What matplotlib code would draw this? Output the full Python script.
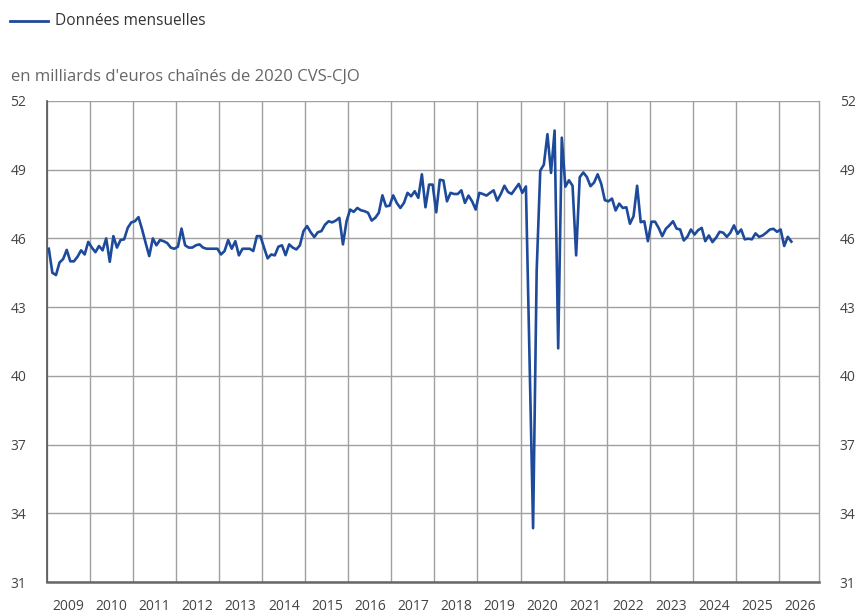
import numpy as np
import matplotlib
matplotlib.use("Agg")
import matplotlib.pyplot as plt

plt.rcParams['font.family'] = ['Open Sans', 'DejaVu Sans']

# monthly values, Jan 2009 onwards (billions of chained 2020 euros)
values = [
    45.55, 44.5, 44.4, 44.95, 45.1, 45.5, 45.0, 45.0, 45.2, 45.48, 45.3, 45.85,
    45.6, 45.4, 45.67, 45.48, 46.0, 44.98, 46.1, 45.6, 45.93, 45.96, 46.46, 46.7,
    46.75, 46.93, 46.4, 45.8, 45.23, 46.0, 45.7, 45.93, 45.88, 45.8, 45.6, 45.55,
    45.64, 46.43, 45.7, 45.6, 45.6, 45.7, 45.74, 45.6, 45.55, 45.55, 45.55, 45.55,
    45.3, 45.45, 45.93, 45.55, 45.88, 45.26, 45.55, 45.55, 45.55, 45.45, 46.1, 46.1,
    45.6, 45.13, 45.3, 45.26, 45.64, 45.7, 45.27, 45.74, 45.6, 45.52, 45.7, 46.32,
    46.54, 46.27, 46.06, 46.27, 46.32, 46.6, 46.75, 46.7, 46.78, 46.9, 45.74, 46.75,
    47.26, 47.16, 47.33, 47.23, 47.19, 47.12, 46.78, 46.9, 47.12, 47.88, 47.4, 47.43,
    47.88, 47.55, 47.33, 47.55, 47.99, 47.84, 48.06, 47.77, 48.8, 47.36, 48.35, 48.35,
    47.14, 48.56, 48.53, 47.62, 47.99, 47.94, 47.94, 48.1, 47.55, 47.87, 47.62, 47.26,
    47.99, 47.94, 47.87, 47.99, 48.1, 47.65, 47.94, 48.3, 48.03, 47.94, 48.16, 48.38,
    47.99, 48.27, 40.8, 33.35, 44.6, 48.96, 49.22, 50.55, 48.86, 50.71, 41.2, 50.4,
    48.26, 48.54, 48.3, 45.26, 48.67, 48.88, 48.68, 48.28, 48.44, 48.8, 48.38, 47.67,
    47.62, 47.74, 47.22, 47.52, 47.33, 47.36, 46.64, 46.97, 48.3, 46.71, 46.75, 45.88,
    46.73, 46.73, 46.46, 46.1, 46.42, 46.57, 46.75, 46.43, 46.39, 45.91, 46.07, 46.39,
    46.17, 46.36, 46.46, 45.88, 46.13, 45.84, 46.03, 46.29, 46.25, 46.07, 46.25, 46.57,
    46.2, 46.39, 45.96, 45.99, 45.96, 46.22, 46.07, 46.13, 46.25, 46.39, 46.42, 46.29,
    46.39, 45.67, 46.07, 45.86,
]
start_year = 2009
years = list(range(2009, 2027))
y_ticks = [31, 34, 37, 40, 43, 46, 49, 52]

# mid-month positions
x = start_year + (np.arange(len(values)) + 0.5) / 12.0

fig = plt.figure(figsize=(8.55, 6.14), dpi=100)
ax = fig.add_axes([47 / 855, 1 - 582 / 614, (819 - 47) / 855, (582 - 101) / 614])

ax.plot(x, values, color='#1d4a9a', linewidth=1.9, zorder=3,
        solid_joinstyle='round')

ax.set_xlim(2009, 2026 + 11.2 / 12)
ax.set_ylim(31, 52)

# year gridlines on major ticks, labels centred in each year on minor ticks
ax.set_xticks(years)
ax.set_xticklabels([])
ax.set_xticks([y + 0.5 for y in years], minor=True)
ax.set_xticklabels([str(y) for y in years], minor=True)
ax.tick_params(axis='x', which='both', length=0)
ax.tick_params(axis='x', which='minor', pad=12, labelsize=10, labelcolor='#444444')

ax.set_yticks(y_ticks)
ax.set_yticklabels([str(v) for v in y_ticks])
ax.tick_params(axis='y', length=0, pad=15, labelsize=10, labelcolor='#444444',
               labelleft=True, labelright=True)

ax.grid(True, which='major', color='#a0a0a0', linewidth=1.0, zorder=0)
ax.spines['top'].set_visible(False)
ax.spines['left'].set_color('#555555')
ax.spines['left'].set_linewidth(1.2)
ax.spines['bottom'].set_color('#666666')
ax.spines['bottom'].set_linewidth(1.8)
ax.spines['right'].set_color('#a0a0a0')
ax.spines['right'].set_linewidth(1.0)

# legend and unit caption
fig.add_artist(plt.Line2D([10 / 855, 48 / 855], [1 - 21 / 614, 1 - 21 / 614],
                          color='#1d4a9a', linewidth=2.0))
fig.text(55 / 855, 1 - 21 / 614, 'Données mensuelles', fontsize=11.2,
         color='#333333', va='center', ha='left')
fig.text(11 / 855, 1 - 77 / 614, "en milliards d'euros chaînés de 2020 CVS-CJO",
         fontsize=12, color='#666666', va='center', ha='left')

fig.savefig('out.png', dpi=100)
